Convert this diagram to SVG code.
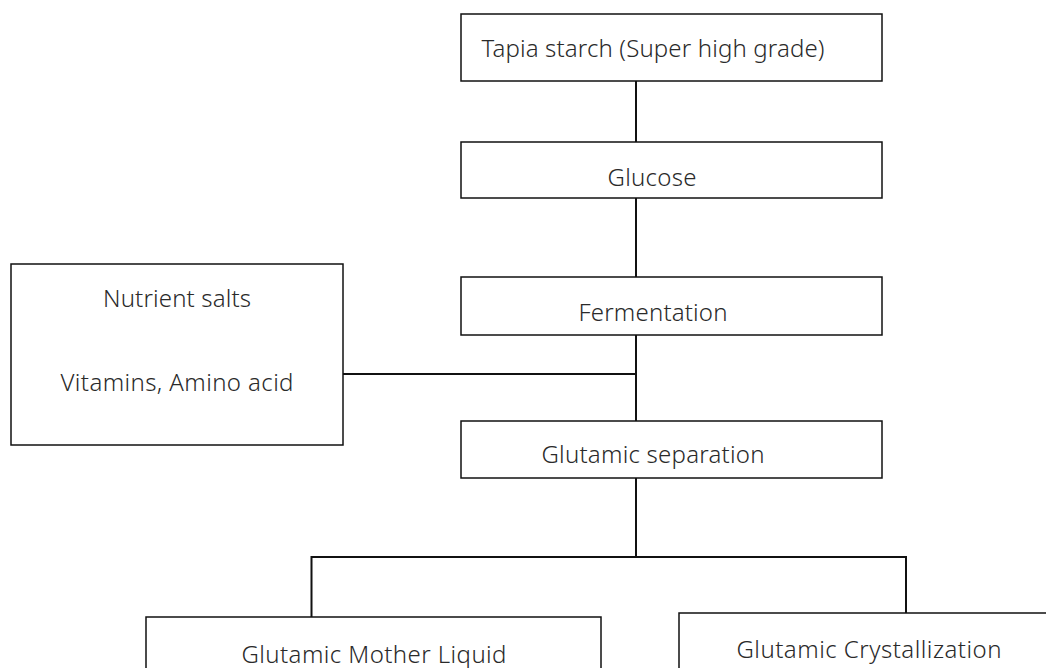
<svg xmlns="http://www.w3.org/2000/svg" width="1046" height="668" viewBox="0 0 1046 668">
<style>
.box{fill:#fff;stroke:#111;stroke-width:1.5}
.lbl{font-family:"Noto Sans","Open Sans",sans-serif;font-size:24px;fill:#2a2a2a;text-anchor:middle;font-weight:300}
.conn{stroke:#111;stroke-width:2;fill:none}
</style>
<rect width="1046" height="668" fill="#fff"/>
<g id="connectors">
<path class="conn" d="M636 81V142M636 198V277M636 335V421M636 478V557M343 374H636M311.5 557H906M311.5 556V617M906 556V613"/>
</g>
<g id="n1"><rect class="box" x="461" y="14" width="421" height="67"/><text class="lbl" x="653" y="57" textLength="343">Tapia starch (Super high grade)</text></g>
<g id="n2"><rect class="box" x="461" y="142" width="421" height="56"/><text class="lbl" x="652" y="186" textLength="89">Glucose</text></g>
<g id="n3"><rect class="box" x="461" y="277" width="421" height="58"/><text class="lbl" x="653" y="321" textLength="149">Fermentation</text></g>
<g id="n4"><rect class="box" x="11" y="264" width="332" height="181"/><text class="lbl" x="177" y="307" textLength="148">Nutrient salts</text><text class="lbl" x="177" y="391" textLength="233">Vitamins, Amino acid</text></g>
<g id="n5"><rect class="box" x="461" y="421" width="421" height="57"/><text class="lbl" x="653" y="463" textLength="223">Glutamic separation</text></g>
<g id="n6"><rect class="box" x="146" y="617" width="455" height="60"/><text class="lbl" x="374" y="663" textLength="265">Glutamic Mother Liquid</text></g>
<g id="n7"><rect class="box" x="679" y="613" width="380" height="64"/><text class="lbl" x="869" y="658" textLength="265">Glutamic Crystallization</text></g>
</svg>
